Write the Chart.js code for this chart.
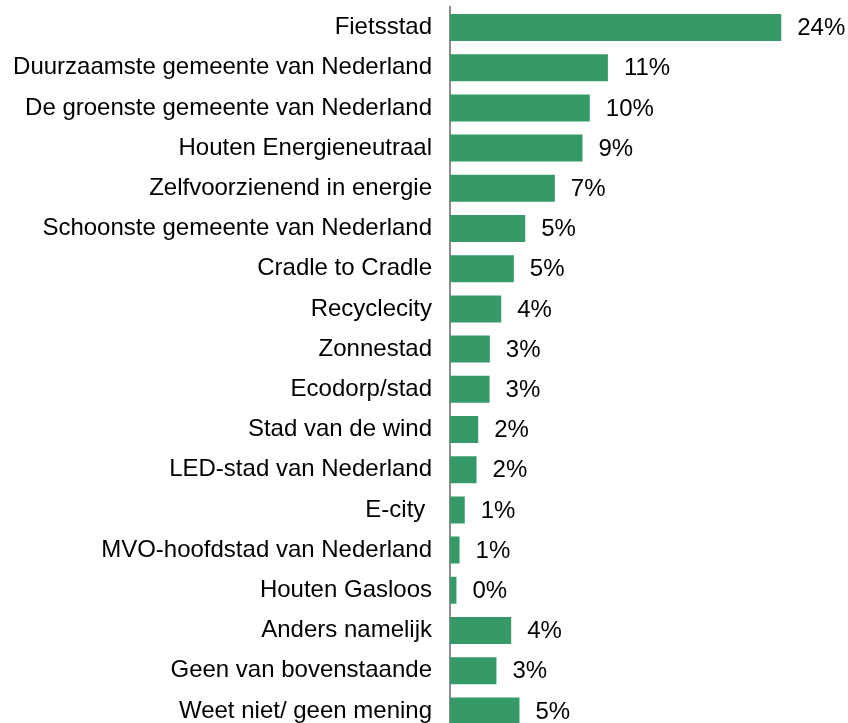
<!DOCTYPE html>
<html>
<head>
<meta charset="utf-8">
<script src="https://cdn.jsdelivr.net/npm/chart.js@4/dist/chart.umd.min.js"></script>
<style>
  html, body { margin: 0; padding: 0; background: #fff; overflow: hidden; }
  canvas { display: block; }
</style>
</head>
<body>
<canvas id="chart" width="848" height="731"></canvas>
<script>
// Categorieën en percentages
const categories = [
  'Fietsstad',
  'Duurzaamste gemeente van Nederland',
  'De groenste gemeente van Nederland',
  'Houten Energieneutraal',
  'Zelfvoorzienend in energie',
  'Schoonste gemeente van Nederland',
  'Cradle to Cradle',
  'Recyclecity',
  'Zonnestad',
  'Ecodorp/stad',
  'Stad van de wind',
  'LED-stad van Nederland',
  'E-city ',
  'MVO-hoofdstad van Nederland',
  'Houten Gasloos',
  'Anders namelijk',
  'Geen van bovenstaande',
  'Weet niet/ geen mening'
];
const percentages = [23.6, 11.25, 9.96, 9.44, 7.47, 5.36, 4.55, 3.65, 2.84, 2.82,
  2.01, 1.89, 1.05, 0.68, 0.46, 4.36, 3.31, 4.95];

const FONT = { family: '"Liberation Sans", Arial, sans-serif', size: 24 };

// Waarde-labels rechts van de balken
const valueLabels = {
  id: 'valueLabels',
  afterDatasetsDraw(chart) {
    const ctx = chart.ctx;
    const meta = chart.getDatasetMeta(0);
    ctx.save();
    ctx.font = FONT.size + 'px ' + FONT.family;
    ctx.fillStyle = '#000';
    ctx.textAlign = 'left';
    ctx.textBaseline = 'middle';
    meta.data.forEach((bar, i) => {
      ctx.fillText(Math.round(percentages[i]) + '%', bar.x + 16, bar.y + 1);
    });
    ctx.restore();
  }
};

new Chart(document.getElementById('chart'), {
  type: 'bar',
  data: {
    labels: categories,
    datasets: [{
      data: percentages,
      backgroundColor: '#359a68',
      borderWidth: 0,
      categoryPercentage: 1,
      barPercentage: 0.672
    }]
  },
  plugins: [valueLabels],
  options: {
    indexAxis: 'y',
    responsive: false,
    animation: false,
    layout: { padding: { top: 7.4, right: 5, left: 0, bottom: 0 } },
    plugins: { legend: { display: false }, tooltip: { enabled: false } },
    scales: {
      x: {
        min: 0,
        max: 28,
        display: false,
        grid: { display: false }
      },
      y: {
        afterFit(scale) {
          scale.width = 450;
          scale.paddingTop = 0;
          scale.paddingBottom = 0;
        },
        grid: { display: false, drawTicks: false },
        border: { display: true, color: '#8c8c8c', width: 2 },
        ticks: { color: '#000', font: FONT, padding: 18, autoSkip: false }
      }
    }
  }
});
</script>
</body>
</html>
